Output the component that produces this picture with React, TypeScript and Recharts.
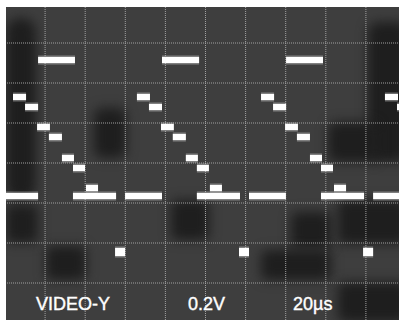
import React from "react";
import { ComposedChart, Line, XAxis, YAxis, CartesianGrid } from "recharts";

// Oscilloscope trace: time in µs (20 µs/div), level in V (0.2 V/div)
const timeTicks = [20, 40, 60, 80, 100, 120, 140, 160, 180];
const voltTicks = [-0.6, -0.4, -0.2, 0, 0.2, 0.4, 0.6];

// [start µs, end µs] spans at each level
const blankingLevel = -0.165;
const blankingSpans: number[][] = [
  [-2, 16.5], [33.9, 55.4], [59.9, 78.3], [95.7, 117.2],
  [121.7, 140.1], [157.6, 179.1], [183.6, 202],
];
const syncLevel = -0.445;
const syncSpans: number[][] = [[54.9, 59.9], [116.7, 121.7], [178.6, 183.6]];
const whiteLevel = 0.515;
const whiteSpans: number[][] = [[16.5, 34.9], [78.3, 96.8], [140.2, 158.6]];

const stepLevels = [0.33, 0.28, 0.18, 0.13, 0.025, -0.025, -0.125];
const stepSpans: number[][][] = [
  [[4.0, 10.5], [65.8, 72.3], [127.7, 134.2], [189.5, 196]],
  [[10.0, 16.5], [71.8, 78.3], [133.7, 140.2], [195.5, 202]],
  [[16.0, 22.4], [77.8, 84.2], [139.7, 146.1]],
  [[21.9, 28.4], [83.7, 90.2], [145.6, 152.1]],
  [[28.4, 34.4], [90.2, 96.2], [152.1, 158.1]],
  [[33.9, 39.9], [95.7, 101.7], [157.6, 163.6]],
  [[40.4, 46.4], [102.2, 108.2], [164.1, 170.1]],
];

const labels = ["VIDEO-Y", "0.2V", "20µs"];

type Seg = { key: string; data: { t: number; v: number }[]; w: number };

function buildSegments(): Seg[] {
  const segs: Seg[] = [];
  const add = (name: string, level: number, spans: number[][], w: number) => {
    spans.forEach((s, i) =>
      segs.push({
        key: `${name}-${i}`,
        data: [{ t: s[0], v: level }, { t: s[1], v: level }],
        w,
      })
    );
  };
  add("blank", blankingLevel, blankingSpans, 6);
  add("sync", syncLevel, syncSpans, 8);
  add("white", whiteLevel, whiteSpans, 6);
  stepLevels.forEach((lv, i) => add(`step${i}`, lv, stepSpans[i], 6));
  return segs;
}

// darker patches of the phosphor screen (page px: left, top, width, height, radius)
const shadows: number[][] = [
  [0, 18, 30, 182, 14],
  [88, 108, 32, 50, 8],
  [362, 22, 40, 140, 10],
  [322, 122, 50, 40, 8],
  [0, 205, 32, 38, 6],
  [165, 200, 38, 40, 6],
  [285, 212, 40, 36, 6],
  [332, 200, 70, 44, 6],
  [40, 246, 40, 34, 6],
  [255, 250, 70, 30, 6],
  [332, 282, 70, 40, 6],
];

export default function App() {
  const segs = buildSegments();
  return (
    <div
      style={{
        position: "fixed",
        left: 0,
        top: 0,
        width: 399,
        height: 320,
        background: "#ffffff",
        overflow: "hidden",
      }}
    >
      <div
        style={{
          position: "absolute",
          left: 6,
          top: 7,
          width: 393,
          height: 313,
          background: "#3e3e3e",
          overflow: "hidden",
        }}
      >
        {shadows.map((s, i) => (
          <div
            key={i}
            style={{
              position: "absolute",
              left: s[0],
              top: s[1] - 7,
              width: s[2],
              height: s[3],
              borderRadius: s[4],
              background: "#1e1e1e",
              filter: "blur(6px)",
            }}
          />
        ))}
        <div style={{ position: "absolute", left: -1, top: -4 }}>
          <ComposedChart
            width={401}
            height={320}
            margin={{ top: 0, right: 0, bottom: 0, left: 0 }}
          >
            <CartesianGrid
              stroke="#a0a0a0"
              strokeDasharray="1 1"
              strokeWidth={1}
            />
            <XAxis
              type="number"
              dataKey="t"
              domain={[0, 200]}
              ticks={timeTicks}
              allowDataOverflow
              hide
            />
            <YAxis
              type="number"
              dataKey="v"
              domain={[-0.8, 0.8]}
              ticks={voltTicks}
              allowDataOverflow
              hide
            />
            {segs.map((s) => (
              <Line
                key={`g-${s.key}`}
                data={s.data}
                dataKey="v"
                stroke="#ffffff"
                strokeOpacity={0.35}
                strokeWidth={s.w + 3}
                dot={false}
                activeDot={false}
                isAnimationActive={false}
              />
            ))}
            {segs.map((s) => (
              <Line
                key={s.key}
                data={s.data}
                dataKey="v"
                stroke="#ffffff"
                strokeWidth={s.w}
                dot={false}
                activeDot={false}
                isAnimationActive={false}
              />
            ))}
          </ComposedChart>
        </div>
      </div>
      {labels.map((txt, i) => (
        <div
          key={txt}
          style={{
            position: "absolute",
            left: [36, 188, 293][i],
            top: 295,
            fontFamily: "'Liberation Sans', Arial, sans-serif",
            fontSize: 18,
            lineHeight: "18px",
            color: "#ffffff",
            whiteSpace: "nowrap",
            WebkitTextStroke: "0.4px #ffffff",
          }}
        >
          {txt}
        </div>
      ))}
    </div>
  );
}
